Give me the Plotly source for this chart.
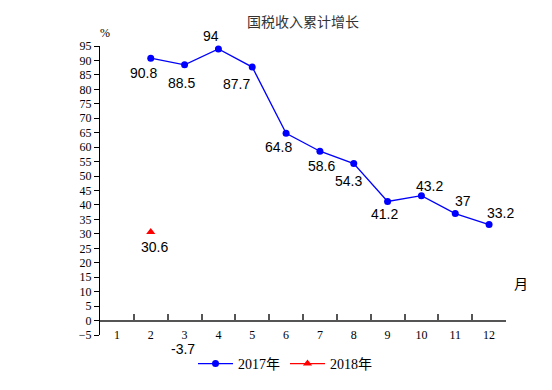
import plotly.graph_objects as go

months_all = [str(m) for m in range(1, 13)]
months_2017 = ["2", "3", "4", "5", "6", "7", "8", "9", "10", "11", "12"]
values_2017 = [90.8, 88.5, 94, 87.7, 64.8, 58.6, 54.3, 41.2, 43.2, 37, 33.2]
months_2018 = ["2", "3"]
values_2018 = [30.6, -3.7]

# label offsets in pixels (dx, dy) relative to each point
offsets_2017 = [(-7, -15), (-3, -18), (-7, 13), (-16, -17), (-8, -14), (2, -15),
                (-5, -17), (-3, -13), (8, 10), (8, 13), (11, 12)]
offsets_2018 = [(4, -15), (-2, -18)]

serif = "Liberation Serif, Times New Roman, serif"
sans = "Liberation Sans, Arial, sans-serif"
OFF = 8  # page body margin

fig = go.Figure()
fig.add_trace(go.Scatter(
    x=months_2017, y=values_2017, name="2017年",
    mode="lines+markers",
    line=dict(color="#0000FF", width=1.3),
    marker=dict(color="#0000FF", size=7, symbol="circle"),
    cliponaxis=False,
))
fig.add_trace(go.Scatter(
    x=months_2018[:1], y=values_2018[:1], name="2018年",
    mode="lines+markers",
    line=dict(color="#FF0000", width=1.3),
    marker=dict(color="#FF0000", size=8, symbol="triangle-up"),
    cliponaxis=False,
))

annotations = []
for m, v, (dx, dy) in zip(months_2017, values_2017, offsets_2017):
    annotations.append(dict(x=months_all.index(m), y=v, xref="x", yref="y", text=f"{v:g}",
                            showarrow=False, xshift=dx, yshift=dy,
                            xanchor="center", yanchor="middle",
                            font=dict(family=sans, size=14, color="black")))
for m, v, (dx, dy) in zip(months_2018, values_2018, offsets_2018):
    annotations.append(dict(x=months_all.index(m), y=v, xref="x", yref="y", text=f"{v:g}",
                            showarrow=False, xshift=dx, yshift=dy,
                            xanchor="center", yanchor="middle",
                            font=dict(family=sans, size=14, color="black")))
annotations += [
    dict(text="%", xref="paper", yref="paper", x=(105 - 100) / 406, y=(335 - 33) / 289,
         xanchor="center", yanchor="middle",
         showarrow=False, font=dict(family=serif, size=12, color="black")),
    dict(text="月", xref="paper", yref="paper", x=(521 - 100) / 406, y=(335 - 283) / 289,
         xanchor="center", yanchor="middle",
         showarrow=False, font=dict(family="Noto Sans CJK SC", size=14, color="black")),
]

fig.update_layout(
    width=552, height=390,
    margin=dict(l=100 - OFF, r=46 + OFF, t=46 - OFF, b=55 + OFF, autoexpand=False),
    paper_bgcolor="white", plot_bgcolor="white",
    showlegend=True,
    title=dict(text="国税收入累计增长", x=(303 - OFF) / 552, xanchor="center",
               y=1 - (22 - OFF) / 390, yanchor="middle",
               font=dict(family="Noto Sans CJK SC", size=14, color="#333333")),
    legend=dict(orientation="h", x=(285 - OFF) / 552, xanchor="center", xref="container",
                y=1 - (364 - OFF) / 390, yanchor="middle", yref="container",
                font=dict(family=serif + ", Noto Sans CJK SC", size=14, color="black"),
                itemwidth=35, tracegroupgap=0),
    xaxis=dict(type="category", categoryorder="array", categoryarray=months_all,
               tickvals=months_all, range=[-0.5, 11.5],
               anchor="free", position=0.05, automargin=False,
               showline=True, linecolor="#555555", linewidth=2,
               ticks="inside", tickson="boundaries", ticklen=6, tickcolor="#555555", tickwidth=1.5,
               ticklabelstandoff=3,
               tickfont=dict(family=serif, size=12, color="black"),
               showgrid=False, zeroline=False),
    yaxis=dict(range=[-5, 95], dtick=5, tick0=0, automargin=False,
               showline=True, linecolor="black", linewidth=1,
               ticks="outside", ticklen=5, tickcolor="black",
               tickfont=dict(family=serif, size=12, color="black"),
               showgrid=False, zeroline=False),
    annotations=annotations,
)

fig.write_html("out.html")
